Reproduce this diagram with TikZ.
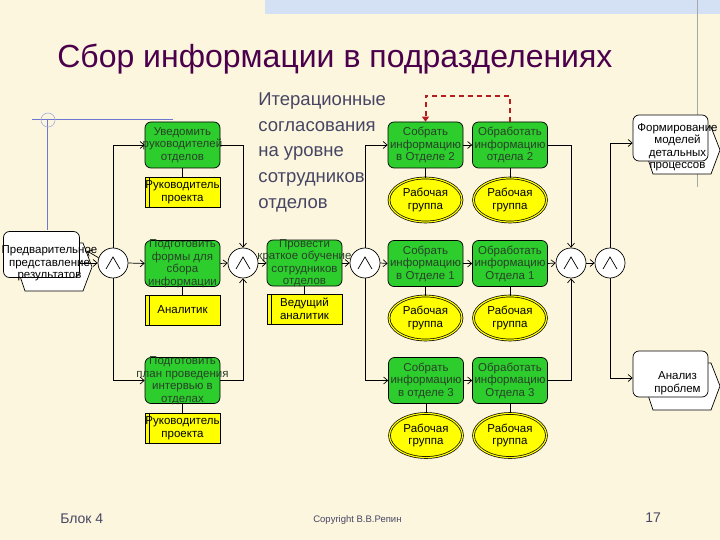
\documentclass[tikz,border=0pt]{standalone}
\usepackage{fontspec}
\setmainfont{Liberation Sans}
\usetikzlibrary{shapes.geometric,arrows.meta}

\definecolor{bgcream}{RGB}{253,246,222}
\definecolor{bandblue}{RGB}{212,224,244}
\definecolor{guideblue}{RGB}{110,120,210}
\definecolor{funcgreen}{RGB}{45,205,45}
\definecolor{functext}{RGB}{40,65,40}
\definecolor{roleyellow}{RGB}{255,255,0}
\definecolor{titlepurple}{RGB}{75,0,75}
\definecolor{slatetext}{RGB}{70,70,100}
\definecolor{iterred}{RGB}{180,30,30}

\begin{document}
\begin{tikzpicture}[x=1pt, y=-1pt, line width=0.7pt,
  functxt/.style={align=center, inner sep=0pt, text=functext, font={\fontsize{11.5}{12.5}\selectfont}},
  func/.style={draw, rounded corners=6pt, fill=funcgreen, minimum width=75pt, minimum height=46pt,
    inner sep=0pt, label={[functxt]center:#1}},
  role/.style={draw, fill=roleyellow, minimum width=75pt, minimum height=30pt, inner sep=0pt,
    align=center, font={\fontsize{11.5}{12.5}\selectfont},
    path picture={\draw ([xshift=4pt]path picture bounding box.north west) -- ([xshift=4pt]path picture bounding box.south west);}},
  group/.style={ellipse, draw, double=roleyellow, double distance=1.2pt, fill=roleyellow,
    minimum width=73pt, minimum height=44pt, inner sep=0pt, align=center, font={\fontsize{11.5}{12.5}\selectfont}},
  oper/.style={circle, draw, fill=white, minimum size=30pt, inner sep=0pt,
    path picture={\draw ([shift={(-7pt,-6pt)}]path picture bounding box.center) -- ([shift={(0pt,6pt)}]path picture bounding box.center) -- ([shift={(7pt,-6pt)}]path picture bounding box.center);}},
  evhex/.style={draw, fill=white},
  evbox/.style={draw, rounded corners=6pt, fill=white, minimum width=76pt, minimum height=46pt, inner sep=0pt},
  evtext/.style={align=center, inner sep=0pt, font={\fontsize{11.5}{12.5}\selectfont}},
  arr/.style={-{Straight Barb[length=4pt,width=7pt]}},
  iterarr/.style={iterred, line width=2pt, dash pattern=on 5pt off 4pt, -{Triangle[length=5pt,width=7pt]}}]

% Slide background
\fill[bgcream] (0,0) rectangle (720,540);
\useasboundingbox (0,0) rectangle (720,540);
\fill[bandblue] (265,0) rectangle (720,14);
\draw[gray!70, line width=0.6pt] (697,0) -- (697,187);
\draw[guideblue, line width=0.6pt] (32,119) -- (173,119);
\draw[guideblue, line width=0.6pt] (47,119) -- (47,230);
\draw[guideblue!60, line width=0.6pt] (48,120) circle (7);

% Title
\node[anchor=base west, inner sep=0pt, text=titlepurple, font={\fontsize{32}{36}\selectfont}] (title) at (57,68)
  {Сбор информации в подразделениях};

% Note on iterations
\node[anchor=north west, inner sep=0pt, align=left, text=slatetext, font={\fontsize{18.5}{25.7}\selectfont}] (iternote) at (258,92.5)
  {Итерационные\\согласования\\на уровне\\сотрудников\\отделов};

% Start interface
\draw[evhex] (17,267) -- (25,243) -- (83,243) -- (92,267) -- (83,291) -- (25,291) -- cycle;
\node[evbox, label={[evtext, shift={(8pt,-9pt)}]center:{Предварительное\\представление\\результатов}}] (ev1) at (41.5,254.5) {};

% Operators
\node[oper] (op1) at (113,263) {};
\node[oper] (op2) at (243,263) {};
\node[oper] (op3) at (365,263) {};
\node[oper] (op4) at (571,263) {};
\node[oper] (op5) at (610,263) {};

% Preparation functions with roles
\node[func={Уведомить\\руководителей\\отделов}] (f1) at (182.5,145) {};
\node[role] (r1) at (182.5,192) {Руководитель\\проекта};
\node[func={Подготовить\\формы для\\сбора\\информации}] (f2) at (182.5,263.5) {};
\node[role] (r2) at (182.5,310) {Аналитик};
\node[func={Подготовить\\план проведения\\интервью в\\отделах}] (f3) at (182.5,380.5) {};
\node[role] (r3) at (182.5,428) {Руководитель\\проекта};
\node[func={Провести\\краткое обучение\\сотрудников\\отделов}] (f4) at (304.5,263) {};
\node[role] (r4) at (304.5,309) {Ведущий\\аналитик};

% Collect / process in departments
\node[func={Собрать\\информацию\\в Отделе 2}] (c2) at (425.5,145) {};
\node[group] (g2) at (425.5,200) {Рабочая\\группа};
\node[func={Собрать\\информацию\\в Отделе 1}] (c1) at (425.5,263.5) {};
\node[group] (g1) at (425.5,318) {Рабочая\\группа};
\node[func={Собрать\\информацию\\в отделе 3}] (c3) at (426,380.5) {};
\node[group] (g3) at (426,435.5) {Рабочая\\группа};
\node[func={Обработать\\информацию\\отдела 2}] (p2) at (510,145) {};
\node[group] (h2) at (510,200) {Рабочая\\группа};
\node[func={Обработать\\информацию\\Отдела 1}] (p1) at (510,263.5) {};
\node[group] (h1) at (510,318) {Рабочая\\группа};
\node[func={Обработать\\информацию\\Отдела 3}] (p3) at (510,380.5) {};
\node[group] (h3) at (510,435.5) {Рабочая\\группа};

% End interfaces
\draw[evhex] (645,150) -- (653,127) -- (711,127) -- (720,150) -- (711,174) -- (653,174) -- cycle;
\node[evbox, minimum width=75pt, label={[evtext, shift={(7pt,-9pt)}]center:{Формирование\\моделей\\детальных\\процессов}}] (ev2) at (670.5,138) {};
\draw[evhex] (645,386) -- (653,363) -- (711,363) -- (720,386) -- (711,410) -- (653,410) -- cycle;
\node[evbox, minimum width=75pt, label={[evtext, shift={(7pt,-9pt)}]center:{Анализ\\проблем}}] (ev3) at (670.5,374) {};

% Role links
\draw (f1) -- (r1);
\draw (f2) -- (r2);
\draw (f3) -- (r3);
\draw (f4) -- (r4);
\draw (c2) -- (g2);
\draw (c1) -- (g1);
\draw (c3) -- (g3);
\draw (p2) -- (h2);
\draw (p1) -- (h1);
\draw (p3) -- (h3);

% Control flow
\coordinate (ev1in) at (87,251);
\draw[arr] (op1.160) -- (ev1in);
\draw[arr] (ev1.east |- op1.west) -- (op1.west);
\draw[arr] (op1.north) |- (f1.west);
\draw[arr] (op1.east) -- (f2.west);
\draw[arr] (op1.south) |- (f3.west);
\draw[arr] (f1.east) -| (op2.north);
\draw[arr] (f2.east) -- (op2.west);
\draw[arr] (f3.east) -| (op2.south);
\draw[arr] (op2.east) -- (f4.west);
\draw[arr] (f4.east) -- (op3.west);
\draw[arr] (op3.north) |- (c2.west);
\draw[arr] (op3.east) -- (c1.west);
\draw[arr] (op3.south) |- (c3.west);
\draw[arr] (c2.east) -- (p2.west);
\draw[arr] (c1.east) -- (p1.west);
\draw[arr] (c3.east) -- (p3.west);
\draw[arr] (p2.east) -| (op4.north);
\draw[arr] (p1.east) -- (op4.west);
\draw[arr] (p3.east) -| (op4.south);
\draw[arr] (op4.east) -- (op5.west);
\draw[arr] (op5.north) |- ([yshift=-5pt]ev2.west);
\draw[arr] (op5.south) |- ([yshift=-4pt]ev3.west);

% Iteration loop
\draw[iterarr] (p2.north) -- ++(0,-26) -| (c2.north);

% Footer
\node[anchor=base west, inner sep=0pt, text=slatetext, font={\fontsize{14}{16}\selectfont}] (block) at (60,523) {Блок 4};
\node[anchor=base west, inner sep=0pt, text=slatetext, font={\fontsize{9.5}{11}\selectfont}] (copy) at (313,522) {Copyright В.В.Репин};
\node[anchor=base west, inner sep=0pt, text=slatetext, font={\fontsize{14}{16}\selectfont}] (page) at (645,522) {17};
\end{tikzpicture}
\end{document}
